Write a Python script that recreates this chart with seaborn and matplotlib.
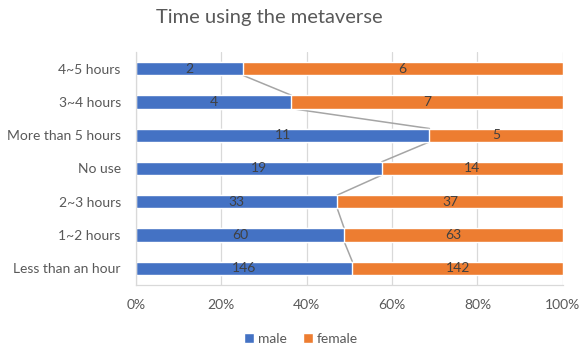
import matplotlib
matplotlib.use("Agg")
import matplotlib.pyplot as plt
import seaborn as sns
import numpy as np
import pandas as pd
from matplotlib.patches import Patch

# Survey counts by time spent in the metaverse
categories = ["4~5 hours", "3~4 hours", "More than 5 hours", "No use",
              "2~3 hours", "1~2 hours", "Less than an hour"]
male = [2, 4, 11, 19, 33, 60, 146]
female = [6, 7, 5, 14, 37, 63, 142]
x_ticks = [0, 20, 40, 60, 80, 100]
x_tick_labels = ["0%", "20%", "40%", "60%", "80%", "100%"]

BLUE = "#4472C4"
ORANGE = "#ED7D31"
TEXT = "#595959"
GRID = "#D9D9D9"

df = pd.DataFrame({"cat": categories, "male": male, "female": female})
df["total"] = df["male"] + df["female"]
df["male_pct"] = df["male"] / df["total"] * 100
df["female_pct"] = df["female"] / df["total"] * 100
df["stack_pct"] = df["male_pct"] + df["female_pct"]

sns.set_theme(style="white")
plt.rcParams["font.family"] = ["Lato", "DejaVu Sans"]

fig = plt.figure(figsize=(5.79, 3.51), dpi=100)
ax = fig.add_axes([0.235, 0.188, 0.737, 0.664])

bar_w = 0.4
sns.barplot(data=df, x="stack_pct", y="cat", color=ORANGE, width=bar_w,
            saturation=1, ax=ax, orient="h")
sns.barplot(data=df, x="male_pct", y="cat", color=BLUE, width=bar_w,
            saturation=1, ax=ax, orient="h")

# series lines joining the male/female boundaries of neighbouring bars
for i in range(len(df) - 1):
    ax.plot([df["male_pct"][i], df["male_pct"][i + 1]],
            [i + bar_w / 2, i + 1 - bar_w / 2],
            color="#A5A5A5", lw=1.1, zorder=1)

# data labels centred in each segment
for i, row in df.iterrows():
    ax.text(row["male_pct"] / 2, i, str(row["male"]), ha="center", va="center",
            fontsize=10, color="#404040")
    ax.text(row["male_pct"] + row["female_pct"] / 2, i, str(row["female"]),
            ha="center", va="center", fontsize=10, color="#404040")

ax.set_xlim(0, 100)
ax.set_ylim(len(df) - 0.5, -0.5)
ax.set_xticks(x_ticks)
ax.set_xticklabels(x_tick_labels)
ax.xaxis.grid(True, color=GRID, lw=0.9)
ax.set_axisbelow(True)
for b in ax.patches:
    b.set_zorder(2)
ax.set_xlabel("")
ax.set_ylabel("")
ax.tick_params(axis="both", length=0, labelsize=10, labelcolor=TEXT)
ax.tick_params(axis="x", pad=10)
ax.tick_params(axis="y", pad=11)
for side in ["top", "right"]:
    ax.spines[side].set_visible(False)
for side in ["left", "bottom"]:
    ax.spines[side].set_color(GRID)
    ax.spines[side].set_linewidth(0.9)

fig.suptitle("Time using the metaverse", x=0.465, y=0.975, fontsize=14.5,
             color=TEXT)

handles = [Patch(facecolor=BLUE, label="male"),
           Patch(facecolor=ORANGE, label="female")]
fig.legend(handles=handles, loc="center", bbox_to_anchor=(0.52, 0.035),
           ncol=2, frameon=False, fontsize=10, labelcolor=TEXT,
           handlelength=0.7, handleheight=0.7, handletextpad=0.3,
           columnspacing=1.2)

fig.savefig("out.png", dpi=100)
